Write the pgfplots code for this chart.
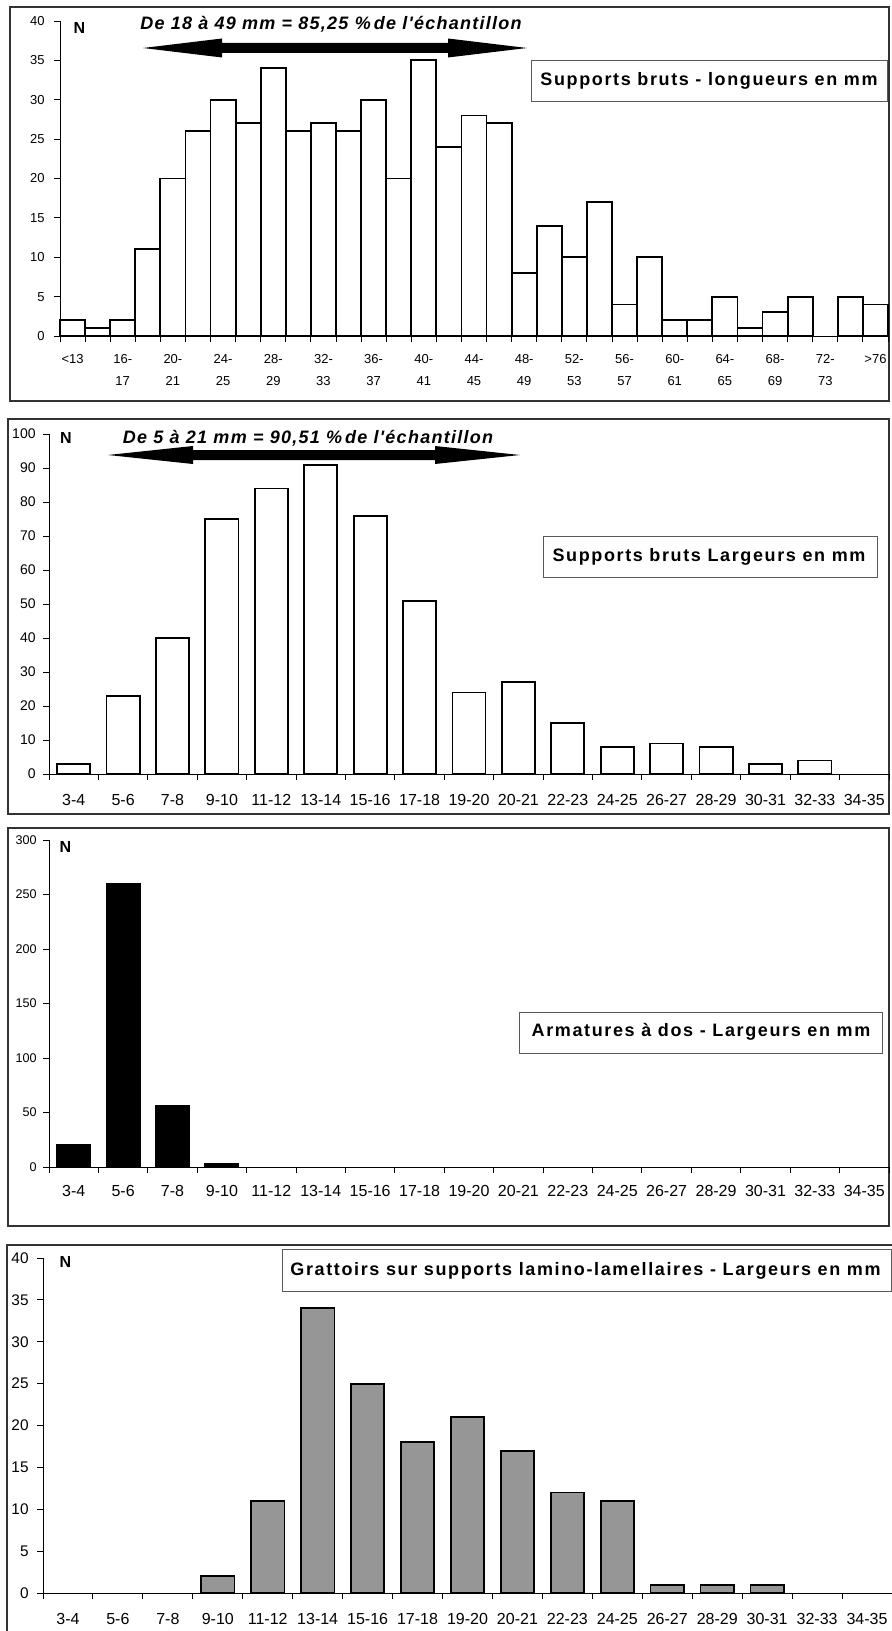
\documentclass[border=0pt]{standalone}
\usepackage{fontspec}
\setmainfont{Liberation Sans}
\newfontfamily\titlefont[LetterSpace=7]{Liberation Sans}
\newfontfamily\boxfont[LetterSpace=9]{Liberation Sans}
\usepackage{pgfplots}
\pgfplotsset{compat=1.18}
\definecolor{barfill}{RGB}{150,150,150}
\definecolor{framec}{RGB}{51,51,51}
\definecolor{boxc}{RGB}{90,90,90}

\pgfplotsset{
  hist/.style={
    scale only axis, anchor=south west,
    axis x line=bottom, axis y line=left,
    axis line style={-, line width=0.5pt, black},
    ymin=0, enlargelimits=false, clip=false,
    tick align=outside,
    major tick length=3pt, minor tick length=2.75pt,
    tick style={black, line width=0.5pt},
    major x tick style={draw=none},
    ybar, bar shift=0pt,
    /pgf/number format/assume math mode=true,
    yticklabel style={anchor=east, inner sep=0pt},
    xticklabel style={anchor=base, inner sep=0pt},
  }
}

\begin{document}
\begin{tikzpicture}
\useasboundingbox (0,0) rectangle (446pt,-815.5pt);
% frames
\begin{scope}[x=0.5pt,y=-0.5pt]
\draw[framec, line width=0.75pt] (10,7) rectangle (889,401);
\draw[framec, line width=0.75pt] (8,419) rectangle (889,814);
\draw[framec, line width=0.75pt] (8,828) rectangle (889,1226);
\draw[framec, line width=0.75pt] (7,1245) rectangle (905,1650);
\end{scope}

% Panel 1
\begin{axis}[hist, at={(30pt,-168pt)}, width=414pt, height=157.5pt,
  xmin=-0.5, xmax=32.5, ymax=40, ytick={0,5,...,40},
  bar width=1,
  xtick={0,2,...,32},
  xticklabels={{<13\\~},{16-\\17},{20-\\21},{24-\\25},{28-\\29},{32-\\33},{36-\\37},{40-\\41},{44-\\45},{48-\\49},{52-\\53},{56-\\57},{60-\\61},{64-\\65},{68-\\69},{72-\\73},{>76\\~}},
  minor xtick={-0.5,0.5,...,32.5},
  yticklabel style={font=\fontsize{6.5}{7}\selectfont, xshift=-4.5pt},
  xticklabel style={font=\fontsize{6.5}{11}\selectfont, align=center, yshift=-21.75pt},
]
\addplot[fill=white, draw=black, line width=0.9pt] coordinates {
(0,2)(1,1)(2,2)(3,11)(4,20)(5,26)(6,30)(7,27)(8,34)(9,26)(10,27)(11,26)(12,30)(13,20)(14,35)(15,24)(16,28)(17,27)(18,8)(19,14)(20,10)(21,17)(22,4)(23,10)(24,2)(25,2)(26,5)(27,1)(28,3)(29,5)(31,5)(32,4)};
\end{axis}

% Panel 2
\begin{axis}[hist, at={(24.5pt,-387pt)}, width=420pt, height=170pt,
  xmin=-0.5, xmax=16.5, ymax=100, ytick={0,10,...,100},
  bar width=0.67,
  xtick={0,...,16},
  xticklabels={3-4,5-6,7-8,9-10,11-12,13-14,15-16,17-18,19-20,20-21,22-23,24-25,26-27,28-29,30-31,32-33,34-35},
  minor xtick={-0.5,0.5,...,16.5},
  yticklabel style={font=\fontsize{7}{8}\selectfont, xshift=-3.5pt},
  xticklabel style={font=\fontsize{8}{9}\selectfont, yshift=-12.75pt},
]
\addplot[fill=white, draw=black, line width=0.9pt] coordinates {
(0,3)(1,23)(2,40)(3,75)(4,84)(5,91)(6,76)(7,51)(8,24)(9,27)(10,15)(11,8)(12,9)(13,8)(14,3)(15,4)};
\end{axis}

% Panel 3
\begin{axis}[hist, at={(24.5pt,-583.5pt)}, width=420pt, height=163.5pt,
  xmin=-0.5, xmax=16.5, ymax=300, ytick={0,50,...,300},
  bar width=0.67,
  xtick={0,...,16},
  xticklabels={3-4,5-6,7-8,9-10,11-12,13-14,15-16,17-18,19-20,20-21,22-23,24-25,26-27,28-29,30-31,32-33,34-35},
  minor xtick={-0.5,0.5,...,16.5},
  yticklabel style={font=\fontsize{6.3}{7}\selectfont, xshift=-3pt},
  xticklabel style={font=\fontsize{8}{9}\selectfont, yshift=-11.75pt},
]
\addplot[fill=black, draw=black, line width=0.9pt] coordinates {
(0,20)(1,260)(2,56)(3,3)};
\end{axis}

% Panel 4
\begin{axis}[hist, at={(21.5pt,-796.5pt)}, width=424.5pt, height=167.5pt,
  xmin=-0.5, xmax=16.5, ymax=40, ytick={0,5,...,40},
  bar width=0.67,
  xtick={0,...,16},
  xticklabels={3-4,5-6,7-8,9-10,11-12,13-14,15-16,17-18,19-20,20-21,22-23,24-25,26-27,28-29,30-31,32-33,34-35},
  minor xtick={-0.5,0.5,...,16.5},
  yticklabel style={font=\fontsize{7.7}{8}\selectfont, xshift=-4pt},
  xticklabel style={font=\fontsize{8}{9}\selectfont, yshift=-12.75pt},
]
\addplot[fill=barfill, draw=black, line width=0.9pt] coordinates {
(3,2)(4,11)(5,34)(6,25)(7,18)(8,21)(9,17)(10,12)(11,11)(12,1)(13,1)(14,1)};
\end{axis}

% annotations
\begin{scope}[x=0.5pt,y=-0.5pt]
% N labels
\node[anchor=base, inner sep=0pt, font=\fontsize{8}{9}\selectfont\bfseries] at (79.5,33.3) {N};
\node[anchor=base, inner sep=0pt, font=\fontsize{8}{9}\selectfont\bfseries] at (65.8,443.3) {N};
\node[anchor=base, inner sep=0pt, font=\fontsize{8}{9}\selectfont\bfseries] at (65.5,852.3) {N};
\node[anchor=base, inner sep=0pt, font=\fontsize{8}{9}\selectfont\bfseries] at (65.5,1267) {N};
% titles
\node[anchor=base, inner sep=0pt, font=\titlefont\fontsize{9}{10}\selectfont\bfseries\itshape] at (331,30) {De 18 à 49 mm = 85,25 \%\,de l'échantillon};
\node[anchor=base, inner sep=0pt, font=\titlefont\fontsize{9}{10}\selectfont\bfseries\itshape] at (308,443.3) {De 5 à 21 mm = 90,51 \%\,de l'échantillon};
% arrows
\fill[black] (143,48) -- (222,38.5) -- (222,43) -- (448,43) -- (448,38.5) -- (527,48) -- (448,57.5) -- (448,53) -- (222,53) -- (222,57.5) -- cycle;
\fill[black] (108,455) -- (193,446) -- (193,450) -- (435,450) -- (435,446) -- (520,455) -- (435,464) -- (435,460) -- (193,460) -- (193,464) -- cycle;
% boxes
\draw[boxc, line width=0.5pt, fill=white] (531,61) rectangle (887,102);
\node[anchor=base, inner sep=0pt, font=\boxfont\fontsize{9}{10}\selectfont\bfseries] at (709,86) {Supports bruts - longueurs en mm};
\draw[boxc, line width=0.5pt, fill=white] (543,536) rectangle (877,577);
\node[anchor=base, inner sep=0pt, font=\boxfont\fontsize{9}{10}\selectfont\bfseries] at (709,561.7) {Supports bruts Largeurs en mm};
\draw[boxc, line width=0.5pt, fill=white] (519,1012) rectangle (882,1053);
\node[anchor=base, inner sep=0pt, font=\boxfont\fontsize{9}{10}\selectfont\bfseries] at (701,1036.7) {Armatures à dos - Largeurs en mm};
\draw[boxc, line width=0.5pt, fill=white] (282,1249) rectangle (891,1291);
\node[anchor=base, inner sep=0pt, font=\boxfont\fontsize{9}{10}\selectfont\bfseries] at (585.5,1275) {Grattoirs sur supports lamino-lamellaires - Largeurs en mm};
\end{scope}
\end{tikzpicture}
\end{document}
